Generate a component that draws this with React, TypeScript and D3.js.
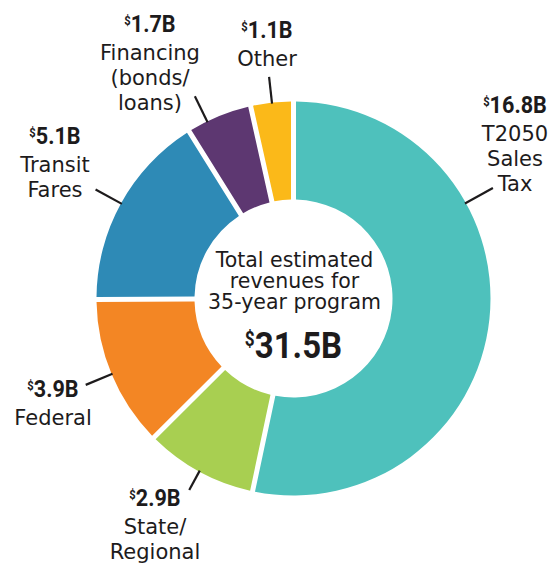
import React from "react";
import * as d3 from "d3";

const categories = ["T2050 Sales Tax", "State/Regional", "Federal", "Transit Fares", "Financing (bonds/loans)", "Other"];
const values = [16.8, 2.9, 3.9, 5.1, 1.7, 1.1];
const colors = ["#4EC1BC", "#A8CF51", "#F38624", "#2E8AB6", "#5D3771", "#FBB919"];
const labelLines = [["T2050", "Sales", "Tax"], ["State/", "Regional"], ["Federal"], ["Transit", "Fares"], ["Financing", "(bonds/", "loans)"], ["Other"]];
const centerLines = ["Total estimated", "revenues for", "35-year program"];
const totalLabel = "31.5B";

// label layout (annotation placement)
const labelAnchors: [number, number][] = [[515, 113], [155, 506], [53, 397], [55, 144], [150, 32], [267, 38]];
const leaderAngles: (number | null)[] = [61, null, null, null, 334, null];
const leaderOuter = [228, 218, 225, 226, 225, 223];

const W = 552, H = 566;
const CX = 293.5, CY = 298.5, R = 197, R0 = 99;
const TEXT = "#1d1b1c";
const FONT = "'DejaVu Sans', 'Liberation Sans', sans-serif";
const BOLD = "Roboto, 'Liberation Sans', sans-serif";

function ValueText({ x, y, v, size, sx }: { x: number; y: number; v: string; size: number; sx: number }) {
  return (
    <g transform={`translate(${x},${y}) scale(${sx},1)`}>
      <text textAnchor="middle" fontFamily={BOLD} fontWeight={700} fill={TEXT} fontSize={size}>
        <tspan fontSize={size * 0.52} dy={-size * 0.31}>$</tspan>
        <tspan dy={size * 0.31}>{v}</tspan>
      </text>
    </g>
  );
}

export default function App() {
  const pie = d3.pie<number>().value((d) => d).sort(null);
  const arcs = pie(values);
  const arc = d3.arc<d3.PieArcDatum<number>>().innerRadius(R0).outerRadius(R).padAngle(5 / R).padRadius(R);
  const rad = (deg: number) => (deg * Math.PI) / 180;
  const pt = (a: number, r: number) => [Math.sin(a) * r, -Math.cos(a) * r];

  return (
    <svg width={W} height={H} style={{ position: "absolute", left: 0, top: 0, background: "#fff" }}>
      <g transform={`translate(${CX},${CY})`}>
        {arcs.map((a, i) => (
          <path key={categories[i]} d={arc(a) || ""} fill={colors[i]} />
        ))}
        {arcs.map((a, i) => {
          const ang = leaderAngles[i] != null ? rad(leaderAngles[i] as number) : (a.startAngle + a.endAngle) / 2;
          const [x1, y1] = pt(ang, R - 1);
          const [x2, y2] = pt(ang, leaderOuter[i]);
          return <line key={"l" + i} x1={x1} y1={y1} x2={x2} y2={y2} stroke={TEXT} strokeWidth={2.2} />;
        })}
      </g>
      {values.map((v, i) => {
        const [x, y] = labelAnchors[i];
        return (
          <g key={"t" + i}>
            <ValueText x={x} y={y} v={`${v}B`} size={23.5} sx={0.92} />
            {labelLines[i].map((ln, j) => (
              <text key={j} x={x} y={y + 28 + j * 25} textAnchor="middle" fontFamily={FONT} fontSize={21} fill={TEXT}>
                {ln}
              </text>
            ))}
          </g>
        );
      })}
      {centerLines.map((ln, j) => (
        <text key={"c" + j} x={CX + 1} y={267 + j * 21} textAnchor="middle" fontFamily={FONT} fontSize={20.5} fill={TEXT}>
          {ln}
        </text>
      ))}
      <ValueText x={CX} y={357.5} v={totalLabel} size={37.5} sx={0.88} />
    </svg>
  );
}
